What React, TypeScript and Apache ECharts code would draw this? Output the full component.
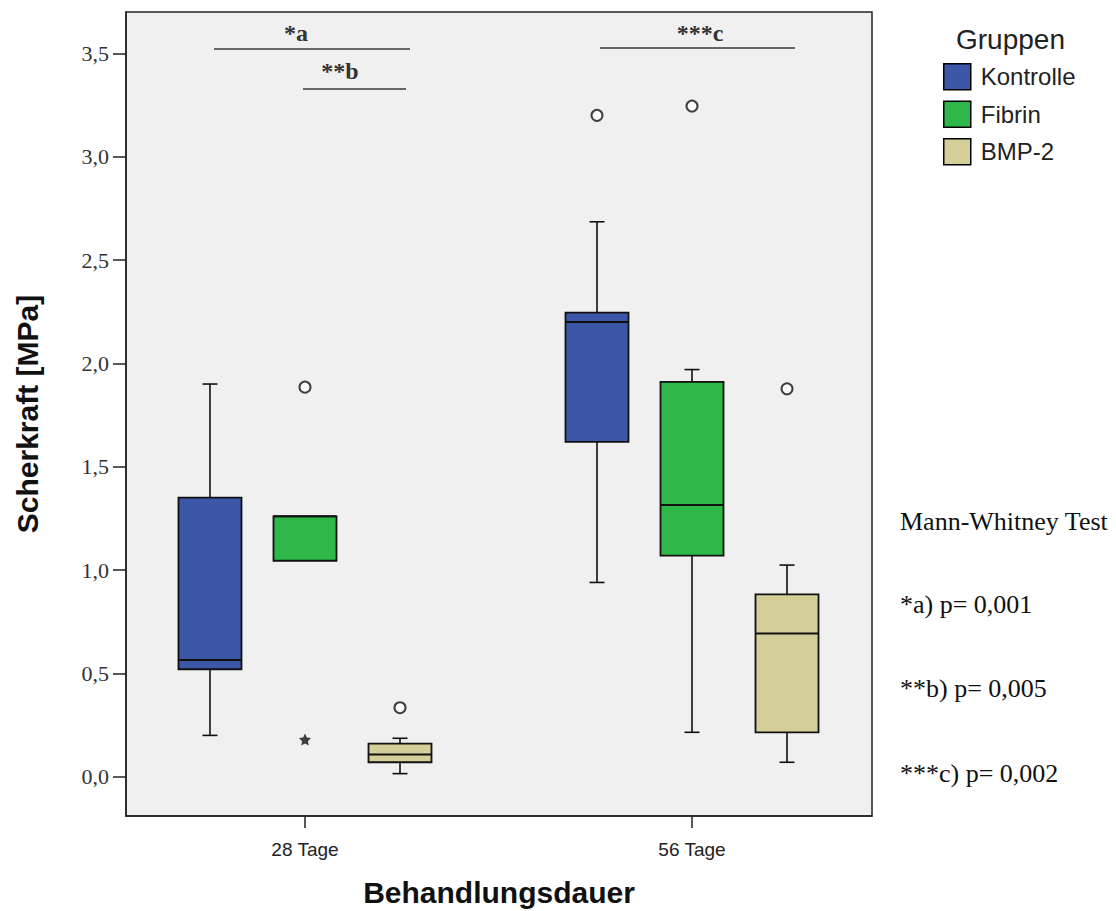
import React, { useEffect, useRef } from "react";
import * as echarts from "echarts";

// ---- data ----
const groups = ["28 Tage", "56 Tage"];
const seriesNames = ["Kontrolle", "Fibrin", "BMP-2"];
// [groupIndex, min, Q1, median, Q3, max]
const kontrolleBox = [
  [0, 0.2, 0.52, 0.565, 1.35, 1.9],
  [1, 0.94, 1.62, 2.2, 2.245, 2.685],
];
const fibrinBox = [
  [0, 1.045, 1.045, 1.26, 1.26, 1.26],
  [1, 0.215, 1.07, 1.315, 1.91, 1.97],
];
const bmpBox = [
  [0, 0.015, 0.07, 0.108, 0.16, 0.186],
  [1, 0.07, 0.215, 0.693, 0.882, 1.024],
];
// [groupIndex, value]
const kontrolleOutliers = [[1, 3.2]];
const fibrinOutliers = [
  [0, 1.885],
  [1, 3.245],
];
const bmpOutliers = [
  [0, 0.334],
  [1, 1.877],
];
const fibrinExtremes = [[0, 0.18]];
const yTicks = [0, 0.5, 1, 1.5, 2, 2.5, 3, 3.5];
const significance = [
  { label: "*a", p: "0,001" },
  { label: "**b", p: "0,005" },
  { label: "***c", p: "0,002" },
];

// ---- style ----
const COLORS = ["#3c56a8", "#2fb84a", "#d4cf98"];
const OFFSETS = [-0.2455, 0, 0.2455];
const BOX_W = 63;
const CAP_W = 15;
const SANS = "'Liberation Sans', Arial, sans-serif";
const SERIF = "'Liberation Serif', 'Times New Roman', serif";

function makeRender(seriesIdx: number) {
  return (params: any, api: any) => {
    const g = api.value(0);
    const x = g + OFFSETS[seriesIdx];
    const pMin = api.coord([x, api.value(1)]);
    const pQ1 = api.coord([x, api.value(2)]);
    const pMed = api.coord([x, api.value(3)]);
    const pQ3 = api.coord([x, api.value(4)]);
    const pMax = api.coord([x, api.value(5)]);
    const cx = pQ1[0];
    const half = BOX_W / 2;
    const lineStyle = { stroke: "#111", lineWidth: 1.6 };
    const children: any[] = [];
    if (pMax[1] < pQ3[1] - 0.5) {
      children.push({ type: "line", shape: { x1: cx, y1: pMax[1], x2: cx, y2: pQ3[1] }, style: lineStyle });
      children.push({ type: "line", shape: { x1: cx - CAP_W / 2, y1: pMax[1], x2: cx + CAP_W / 2, y2: pMax[1] }, style: lineStyle });
    }
    if (pMin[1] > pQ1[1] + 0.5) {
      children.push({ type: "line", shape: { x1: cx, y1: pQ1[1], x2: cx, y2: pMin[1] }, style: lineStyle });
      children.push({ type: "line", shape: { x1: cx - CAP_W / 2, y1: pMin[1], x2: cx + CAP_W / 2, y2: pMin[1] }, style: lineStyle });
    }
    children.push({
      type: "rect",
      shape: { x: cx - half, y: pQ3[1], width: BOX_W, height: pQ1[1] - pQ3[1] },
      style: { fill: COLORS[seriesIdx], stroke: "#111", lineWidth: 1.8 },
    });
    children.push({
      type: "line",
      shape: { x1: cx - half, y1: pMed[1], x2: cx + half, y2: pMed[1] },
      style: { stroke: "#111", lineWidth: 2 },
    });
    return { type: "group", children };
  };
}

const STAR =
  "path://M0,-10 L2.9,-4 L9.5,-3.1 L4.7,1.5 L5.9,8.1 L0,5 L-5.9,8.1 L-4.7,1.5 L-9.5,-3.1 L-2.9,-4 Z";

export default function App() {
  const ref = useRef<HTMLDivElement>(null);
  useEffect(() => {
    if (!ref.current) return;
    const chart = echarts.init(ref.current, undefined, { renderer: "svg" });
    const boxes = [kontrolleBox, fibrinBox, bmpBox];
    const outliers = [kontrolleOutliers, fibrinOutliers, bmpOutliers];

    const series: any[] = boxes.map((d, i) => ({
      name: seriesNames[i],
      type: "custom",
      renderItem: makeRender(i),
      encode: { x: 0, y: [1, 2, 3, 4, 5] },
      itemStyle: { color: COLORS[i], borderColor: "#000", borderWidth: 1.5 },
      data: d,
      z: 3,
    }));
    outliers.forEach((d, i) => {
      series.push({
        name: seriesNames[i] + " Ausreißer",
        type: "scatter",
        symbol: "emptyCircle",
        symbolSize: 11,
        itemStyle: { color: "#111", borderWidth: 1.7 },
        data: d.map(([g, v]) => [g + OFFSETS[i], v]),
        z: 4,
      });
    });
    series.push({
      name: "Fibrin Extremwerte",
      type: "scatter",
      symbol: STAR,
      symbolSize: 12,
      itemStyle: { color: "#111" },
      data: fibrinExtremes.map(([g, v]) => [g + OFFSETS[1], v]),
      z: 4,
    });

    const sigLine = { stroke: "#666", lineWidth: 2 };
    const sigText = { fill: "#333", font: `bold 24px ${SERIF}` };

    chart.setOption({
      animation: false,
      backgroundColor: "#fff",
      grid: {
        left: 126,
        top: 12,
        width: 746,
        height: 804,
        outerBoundsMode: "none",
        containLabel: false,
        show: true,
        backgroundColor: "#f0f0f0",
        borderColor: "#222",
        borderWidth: 1.5,
      },
      title: {
        text: "Gruppen",
        left: 951,
        top: 20,
        textStyle: { fontFamily: SANS, fontSize: 28, fontWeight: "normal", color: "#222" },
      },
      legend: {
        data: seriesNames,
        orient: "vertical",
        left: 943,
        top: 63,
        padding: 0,
        itemWidth: 27,
        itemHeight: 26,
        itemGap: 10,
        icon: "rect",
        itemStyle: { borderColor: "#000", borderWidth: 1.5 },
        textStyle: { fontFamily: SANS, fontSize: 24, color: "#222", padding: [0, 0, 0, 5] },
      },
      xAxis: {
        type: "value",
        min: -0.4625,
        max: 1.4651,
        name: "Behandlungsdauer",
        nameLocation: "middle",
        nameGap: 61,
        nameTextStyle: { fontFamily: SANS, fontSize: 30, fontWeight: "bold", color: "#111" },
        axisLine: { show: true, onZero: false, lineStyle: { color: "#222", width: 1.5 } },
        axisTick: { show: true, length: 12, customValues: [0, 1], lineStyle: { color: "#222", width: 1.5 } },
        axisLabel: {
          customValues: [0, 1],
          margin: 24,
          fontFamily: SANS,
          fontSize: 19,
          color: "#222",
          formatter: (v: number) => groups[Math.round(v)] ?? "",
        },
        splitLine: { show: false },
      },
      yAxis: {
        type: "value",
        min: -0.19,
        max: 3.7,
        name: "Scherkraft [MPa]",
        nameLocation: "middle",
        nameGap: 84,
        nameTextStyle: { fontFamily: SANS, fontSize: 30, fontWeight: "bold", color: "#111" },
        axisLine: { show: true, onZero: false, lineStyle: { color: "#222", width: 1.5 } },
        axisTick: { show: true, length: 13, customValues: yTicks, lineStyle: { color: "#222", width: 1.5 } },
        axisLabel: {
          customValues: yTicks,
          margin: 17,
          fontFamily: SERIF,
          fontSize: 22,
          color: "#333",
          formatter: (v: number) => v.toFixed(1).replace(".", ","),
        },
        splitLine: { show: false },
      },
      series,
      graphic: [
        { type: "line", shape: { x1: 214, y1: 49, x2: 410, y2: 49 }, style: sigLine, z: 10 },
        { type: "line", shape: { x1: 303, y1: 89, x2: 406, y2: 89 }, style: sigLine, z: 10 },
        { type: "line", shape: { x1: 600, y1: 48, x2: 795, y2: 48 }, style: sigLine, z: 10 },
        { type: "text", x: 296, y: 33, style: { text: significance[0].label, ...sigText, align: "center", verticalAlign: "middle" }, z: 10 },
        { type: "text", x: 340, y: 71, style: { text: significance[1].label, ...sigText, align: "center", verticalAlign: "middle" }, z: 10 },
        { type: "text", x: 700, y: 33, style: { text: significance[2].label, ...sigText, align: "center", verticalAlign: "middle" }, z: 10 },
        { type: "text", x: 900, y: 521, style: { text: "Mann-Whitney Test", fill: "#111", font: `26px ${SERIF}`, verticalAlign: "middle" } },
        ...significance.map((s, i) => ({
          type: "text",
          x: 900,
          y: 604 + i * 84.5,
          style: { text: `${s.label}) p= ${s.p}`, fill: "#111", font: `26px ${SERIF}`, verticalAlign: "middle" },
        })),
      ],
    });
    return () => chart.dispose();
  }, []);
  return (
    <div
      ref={ref}
      style={{ position: "fixed", left: 0, top: 0, width: 1116, height: 911 }}
    />
  );
}
